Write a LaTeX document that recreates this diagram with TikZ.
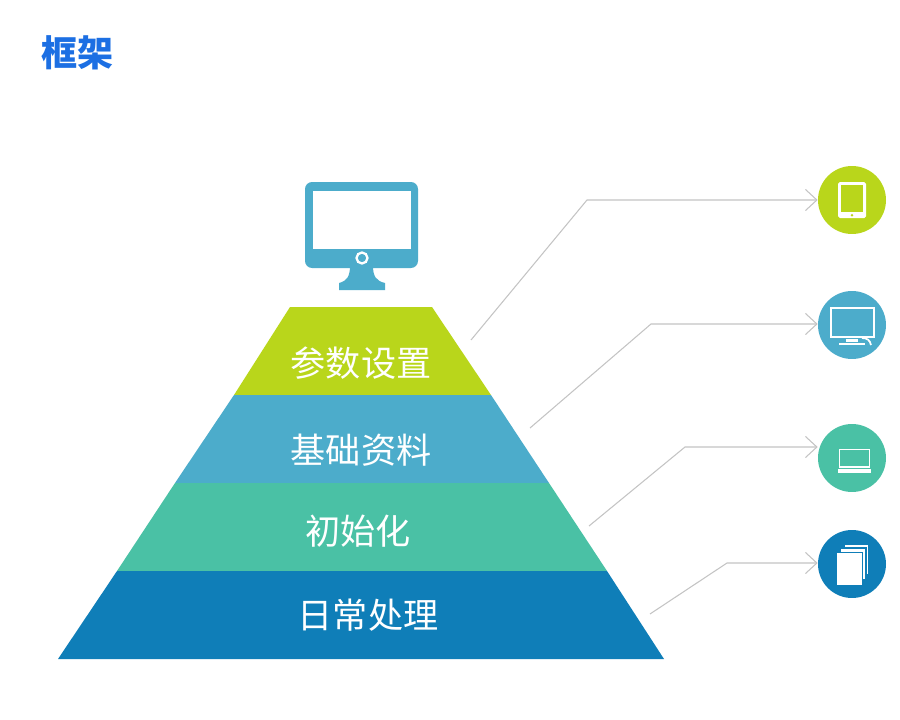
\documentclass[tikz,border=0pt]{standalone}
\usepackage{fontspec}
\setmainfont{Noto Sans CJK SC}
\definecolor{lima}{HTML}{B9D61B}
\definecolor{celeste}{HTML}{4CACCB}
\definecolor{turquesa}{HTML}{4AC1A5}
\definecolor{azul}{HTML}{0F7EB8}
\definecolor{titulo}{HTML}{1C6FE3}
\definecolor{gris}{HTML}{C4C4C4}
\usetikzlibrary{arrows.meta}
\tikzset{
  etiqueta/.style={text=white,font=\fontsize{20}{24}\selectfont},
  circulo/.style={circle,inner sep=0pt,minimum size=1.36cm},
  guia/.style={draw=gris,line width=0.6pt,-{Straight Barb[length=6.5pt,width=12pt]}},
}
\begin{document}
\begin{tikzpicture}[x=0.02cm,y=-0.02cm]
    \useasboundingbox (0,0) rectangle (900,720);
    \fill[white] (0,0) rectangle (900,720);

    % Título
    \node[text=titulo,font=\fontsize{20.5}{24}\bfseries\selectfont] (titulo) at (78,53) {框架};

    % Pirámide
    \fill[lima] (290,307) -- (432,307) -- (491,395) -- (234,395) -- cycle;
    \fill[celeste] (234,395) -- (491,395) -- (549,483) -- (175,483) -- cycle;
    \fill[turquesa] (175,483) -- (549,483) -- (607,571) -- (117,571) -- cycle;
    \fill[azul] (117,571) -- (607,571) -- (664,659) -- (58,659) -- cycle;

    % Etiquetas
    \node[etiqueta] (parametros) at (361,363) {参数设置};
    \node[etiqueta] (basicos) at (361,450) {基础资料};
    \node[etiqueta] (inicio) at (358,531) {初始化};
    \node[etiqueta] (diario) at (368,615) {日常处理};

    % Monitor
    \fill[celeste,rounded corners=4pt] (305,182) rectangle (418,268);
    \fill[white] (313,191) rectangle (411,249);
    \fill[celeste] (350,266) -- (373,266) .. controls (373,276) and (376,281) .. (385,283)
      -- (385,290) -- (339,290) -- (339,283) .. controls (347,281) and (350,276) .. (350,266) -- cycle;
    \draw[white,line width=1.3pt] (362,258) circle (5.5);

    % Círculos
    \node[circulo,fill=lima] (tableta) at (852,200) {};
    \node[circulo,fill=celeste] (pantalla) at (852,325) {};
    \node[circulo,fill=turquesa] (portatil) at (852,458) {};
    \node[circulo,fill=azul] (hojas) at (852,564) {};

    % Tableta
    \fill[white,rounded corners=1pt] (838,182) rectangle (866,218);
    \fill[lima] (841,185) rectangle (863,212);
    \fill[lima] (852,215.2) circle (1.4);

    % Pantalla
    \draw[white,line width=1.1pt] (831,308) rectangle (874,337);
    \fill[white] (846,339) rectangle (858,342);
    \fill[white] (839,343) rectangle (865,345);
    \draw[white,line width=1pt] (862,338) .. controls (867,338) and (870,340) .. (871,345);

    % Portátil
    \draw[white,line width=0.9pt] (839.5,449.5) rectangle (869.5,467);
    \fill[white] (838,469) rectangle (871,472.5);

    % Hojas
    \filldraw[fill=white,draw=azul,line width=0.6pt] (844,544) rectangle (869,575);
    \filldraw[fill=white,draw=azul,line width=0.6pt] (840,548) rectangle (866,580);
    \filldraw[fill=white,draw=azul,line width=0.6pt] (836,552.5) rectangle (862.5,585.5);

    % Líneas guía
    \coordinate (a1) at (471,340);
    \coordinate (a2) at (587,200);
    \coordinate (b1) at (530,428);
    \coordinate (b2) at (651,324);
    \coordinate (c1) at (589,526);
    \coordinate (c2) at (685,447);
    \coordinate (d1) at (650,614);
    \coordinate (d2) at (727,563);
    \draw[guia] (a1) -- (a2) -- (tableta.west);
    \draw[guia] (b1) -- (b2) -- (pantalla.west |- b2);
    \draw[guia] (c1) -- (c2) -- (portatil.west |- c2);
    \draw[guia] (d1) -- (d2) -- (hojas.west |- d2);
  \end{tikzpicture}
\end{document}
